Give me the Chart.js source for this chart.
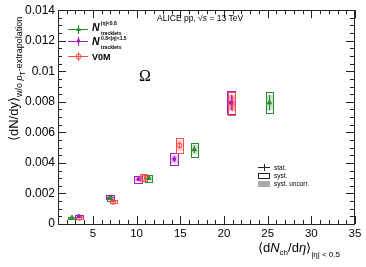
<!DOCTYPE html>
<html>
<head>
<meta charset="utf-8">
<script src="https://cdn.jsdelivr.net/npm/chart.js@4.4.0/dist/chart.umd.min.js"></script>
<style>
  html, body { margin: 0; padding: 0; background: #fff; }
  #c { display: block; }
</style>
</head>
<body>
<canvas id="c" width="366" height="267"></canvas>
<script>
// data
var xTicks = [5, 10, 15, 20, 25, 30, 35];
var yTicks = [0, 0.002, 0.004, 0.006, 0.008, 0.010, 0.012, 0.014];

var trkX = [2.6, 7.0, 11.4, 16.6, 25.2];
var trkY = [0.00042, 0.00168, 0.00300, 0.00488, 0.00795];
var trkStat = [0.00003, 0.00006, 0.0001, 0.00025, 0.0005];
var trkSyst = [0.00005, 0.00012, 0.00022, 0.00045, 0.0007];

var fwdX = [3.4, 7.0, 10.2, 14.3, 20.8];
var fwdY = [0.00052, 0.00180, 0.00293, 0.00425, 0.00795];
var fwdStat = [0.00003, 0.00006, 0.0001, 0.0002, 0.0005];
var fwdSyst = [0.00006, 0.00013, 0.00022, 0.0004, 0.00075];

var v0mX = [3.45, 7.3, 10.8, 14.9, 20.9];
var v0mY = [0.00040, 0.00145, 0.00303, 0.00515, 0.00790];
var v0mStat = [0.00003, 0.00006, 0.0001, 0.0002, 0.0005];
var v0mSyst = [0.00005, 0.0001, 0.00024, 0.0005, 0.00075];

var GREEN = "#2c8a2c";
var PURPLE = "#a21cc0";
var RED = "#ff4a4a";
var FONT = "'Liberation Sans', Arial, sans-serif";

function pts(xs, ys) {
  return xs.map(function (x, i) { return { x: x, y: ys[i] }; });
}

var series = [
  { color: GREEN, x: trkX, y: trkY, stat: trkStat, syst: trkSyst, dx: 0.4 },
  { color: PURPLE, x: fwdX, y: fwdY, stat: fwdStat, syst: fwdSyst, dx: 0.45 },
  { color: RED, x: v0mX, y: v0mY, stat: v0mStat, syst: v0mSyst, dx: 0.4 }
];

function hexA(hex, a) {
  var n = parseInt(hex.slice(1), 16);
  return "rgba(" + (n >> 16) + "," + ((n >> 8) & 255) + "," + (n & 255) + "," + a + ")";
}

// draws pieces of text one after another: [text, font, dy]
function richText(ctx, x, y, parts) {
  parts.forEach(function (p) {
    ctx.font = p[1];
    ctx.fillText(p[0], x, y + (p[2] || 0));
    x += ctx.measureText(p[0]).width;
  });
  return x;
}

// syst boxes and stat bars
var errorPlugin = {
  id: "errors",
  beforeDatasetsDraw: function (chart) {
    var ctx = chart.ctx, xs = chart.scales.x, ys = chart.scales.y;
    ctx.save();
    series.forEach(function (s) {
      s.x.forEach(function (xv, i) {
        var l = xs.getPixelForValue(xv - s.dx), r = xs.getPixelForValue(xv + s.dx);
        var t = ys.getPixelForValue(s.y[i] + s.syst[i]), b = ys.getPixelForValue(s.y[i] - s.syst[i]);
        var tu = ys.getPixelForValue(s.y[i] + s.syst[i] * 0.7), bu = ys.getPixelForValue(s.y[i] - s.syst[i] * 0.7);
        ctx.fillStyle = hexA(s.color, 0.25);
        ctx.fillRect(l, tu, r - l, bu - tu);
        ctx.strokeStyle = s.color;
        ctx.lineWidth = 1;
        ctx.strokeRect(Math.round(l) + 0.5, Math.round(t) + 0.5, Math.round(r - l), Math.round(b - t));
        var px = Math.round(xs.getPixelForValue(xv)) + 0.5;
        ctx.beginPath();
        ctx.moveTo(px, ys.getPixelForValue(s.y[i] + s.stat[i]));
        ctx.lineTo(px, ys.getPixelForValue(s.y[i] - s.stat[i]));
        ctx.stroke();
      });
    });
    ctx.restore();
  }
};

// ROOT-like frame, inward ticks, labels and legends
var framePlugin = {
  id: "frame",
  afterDraw: function (chart) {
    var ctx = chart.ctx, a = chart.chartArea, xs = chart.scales.x, ys = chart.scales.y;
    ctx.save();
    ctx.strokeStyle = "#222";
    ctx.lineWidth = 1;
    ctx.strokeRect(Math.round(a.left) + 0.5, Math.round(a.top) + 0.5,
      Math.round(a.right - a.left) - 1, Math.round(a.bottom - a.top));
    ctx.beginPath();
    var v, p, len;
    for (v = 1; v <= 35; v += 1) {
      p = Math.round(xs.getPixelForValue(v)) + 0.5;
      len = v % 5 === 0 ? 8 : 4;
      ctx.moveTo(p, a.bottom); ctx.lineTo(p, a.bottom - len);
      ctx.moveTo(p, a.top); ctx.lineTo(p, a.top + len);
    }
    for (v = 0; v <= 28; v += 1) {
      p = Math.round(ys.getPixelForValue(v * 0.0005)) + 0.5;
      len = v % 4 === 0 ? 8 : 4;
      ctx.moveTo(a.left, p); ctx.lineTo(a.left + len, p);
      ctx.moveTo(a.right - 1, p); ctx.lineTo(a.right - 1 - len, p);
    }
    ctx.stroke();

    ctx.fillStyle = "#000";
    ctx.textBaseline = "alphabetic";
    ctx.textAlign = "left";

    // y title
    ctx.save();
    ctx.translate(18, 141);
    ctx.rotate(-Math.PI / 2);
    richText(ctx, 0, 0, [
      ["\u27E8dN/dy\u27E9", "13px " + FONT, 0],
      ["w/o ", "9px " + FONT, 4],
      ["p", "italic 9px " + FONT, 4],
      ["T", "7px " + FONT, 7],
      ["-extrapolation", "9px " + FONT, 4]
    ]);
    ctx.restore();

    // x title
    richText(ctx, 258, 252, [
      ["\u27E8d", "13px " + FONT, 0],
      ["N", "italic 13px " + FONT, 0],
      ["ch", "8px " + FONT, 3],
      ["/d", "13px " + FONT, 0],
      ["\u03B7", "italic 13px " + FONT, 0],
      ["\u27E9", "13px " + FONT, 0],
      ["|\u03B7| < 0.5", "8px " + FONT, 5]
    ]);

    // header
    richText(ctx, 157, 21, [
      ["ALICE pp, ", "8.5px " + FONT, 0],
      ["\u221A", "8.5px " + FONT, 0],
      ["s", "italic 8.5px " + FONT, 0],
      [" = 13 TeV", "8.5px " + FONT, 0]
    ]);

    // particle label
    ctx.font = "16px 'Liberation Serif', 'DejaVu Serif', serif";
    ctx.fillText("\u03A9", 139, 81);

    // series legend
    var legY = [29, 41, 56];
    [GREEN, PURPLE, RED].forEach(function (c, i) {
      ctx.strokeStyle = c;
      ctx.beginPath();
      ctx.moveTo(68, legY[i] + 0.5); ctx.lineTo(88, legY[i] + 0.5);
      ctx.moveTo(78.5, legY[i] - 4); ctx.lineTo(78.5, legY[i] + 5);
      ctx.stroke();
      ctx.fillStyle = c;
      ctx.beginPath();
      if (i === 0) {
        ctx.moveTo(78.5, legY[i] - 2.5); ctx.lineTo(81, legY[i] + 2); ctx.lineTo(76, legY[i] + 2);
        ctx.fill();
      } else if (i === 1) {
        ctx.fillRect(77, legY[i] - 1.5, 3, 3);
      } else {
        ctx.arc(78.5, legY[i] + 0.5, 2.5, 0, Math.PI * 2);
        ctx.stroke();
      }
    });
    ctx.fillStyle = "#000";
    var small = "bold 5px " + FONT;
    var big = "italic bold 10.5px " + FONT;
    richText(ctx, 92, 31, [["N", big, 0]]);
    richText(ctx, 101, 25, [["|\u03B7|<0.8", small, 0]]);
    richText(ctx, 101, 35, [["tracklets", small, 0]]);
    richText(ctx, 92, 45, [["N", big, 0]]);
    richText(ctx, 101, 39.5, [["0.8<|\u03B7|<1.5", small, 0]]);
    richText(ctx, 101, 49, [["tracklets", small, 0]]);
    richText(ctx, 92, 60, [["V0M", "bold 9px " + FONT, 0]]);

    // uncertainty legend
    ctx.strokeStyle = "#222";
    ctx.beginPath();
    ctx.moveTo(258, 167.5); ctx.lineTo(270, 167.5);
    ctx.moveTo(264.5, 164); ctx.lineTo(264.5, 171);
    ctx.stroke();
    ctx.strokeRect(258.5, 173.5, 11, 5);
    ctx.fillStyle = "#aaa";
    ctx.fillRect(258, 181, 12, 6);
    ctx.fillStyle = "#000";
    ctx.font = "6.5px " + FONT;
    ctx.fillText("stat.", 274, 170);
    ctx.fillText("syst.", 274, 178);
    ctx.fillText("syst. uncorr.", 274, 186);
    ctx.restore();
  }
};

new Chart(document.getElementById("c"), {
  type: "scatter",
  data: {
    datasets: [
      { data: pts(trkX, trkY), backgroundColor: GREEN, borderColor: GREEN, pointStyle: "triangle", pointRadius: 2.5, borderWidth: 1 },
      { data: pts(fwdX, fwdY), backgroundColor: PURPLE, borderColor: PURPLE, pointStyle: "rect", pointRadius: 1.8, borderWidth: 1 },
      { data: pts(v0mX, v0mY), backgroundColor: "rgba(255,255,255,0)", borderColor: RED, pointStyle: "circle", pointRadius: 2.5, borderWidth: 1 }
    ]
  },
  options: {
    responsive: false,
    animation: false,
    devicePixelRatio: 1,
    layout: { padding: { top: 7, right: 11, left: 0, bottom: 0 } },
    plugins: { legend: { display: false }, tooltip: { enabled: false } },
    scales: {
      x: {
        type: "linear", min: 1, max: 35,
        grid: { display: false, drawTicks: false },
        border: { display: false },
        afterBuildTicks: function (s) { s.ticks = xTicks.map(function (v) { return { value: v }; }); },
        afterFit: function (s) { s.height = 43; },
        ticks: { padding: 3, color: "#000", font: { family: FONT, size: 11.5 } }
      },
      y: {
        type: "linear", min: 0, max: 0.014,
        grid: { display: false, drawTicks: false },
        border: { display: false },
        afterBuildTicks: function (s) { s.ticks = yTicks.map(function (v) { return { value: v }; }); },
        afterFit: function (s) { s.width = 58; },
        ticks: {
          padding: 3, color: "#000", font: { family: FONT, size: 12 },
          callback: function (v) { return String(parseFloat(v.toFixed(3))); }
        }
      }
    }
  },
  plugins: [errorPlugin, framePlugin]
});
</script>
</body>
</html>
